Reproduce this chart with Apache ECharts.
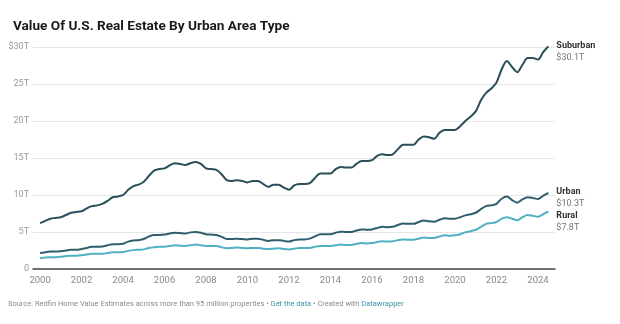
<!DOCTYPE html>
<html><head><meta charset="utf-8">
<script src="https://cdn.jsdelivr.net/npm/echarts@6/dist/echarts.min.js"></script>
<style>html,body{margin:0;padding:0;background:#fff}#c{width:620px;height:324px}</style>
</head><body><div id="c"></div>
<script>
const years = [2000,2001,2002,2003,2004,2005,2006,2007,2008,2009,2010,2011,2012,2013,2014,2015,2016,2017,2018,2019,2020,2021,2022,2023,2024];
const quarterOffsets = [0, 0.25, 0.5, 0.75];
const xTickLabels = [2000,2002,2004,2006,2008,2010,2012,2014,2016,2018,2020,2022,2024];
const yTickLabels = ['0','5T','10T','15T','20T','25T','$30T'];
const seriesNames = ['Suburban','Urban','Rural'];
const endValueLabels = ['$30.1T','$10.3T','$7.8T'];
const suburban = [
6.2,6.5,6.8,6.9, 7.0,7.3,7.6,7.7, 7.8,8.2,8.5,8.6, 8.8,9.2,9.7,9.8,
10.0,10.7,11.2,11.4, 11.8,12.6,13.3,13.5, 13.6,14.0,14.3,14.2, 14.05,14.3,14.45,14.2,
13.6,13.5,13.4,12.8, 12.0,11.9,12.0,11.9, 11.7,11.9,11.9,11.5, 11.1,11.4,11.4,11.0,
10.7,11.3,11.5,11.5, 11.6,12.3,12.9,12.9, 12.9,13.5,13.8,13.7, 13.7,14.2,14.6,14.6,
14.7,15.3,15.5,15.4, 15.5,16.2,16.8,16.8, 16.8,17.5,17.9,17.8, 17.6,18.4,18.8,18.8,
18.8,19.3,20.0,20.6, 21.3,22.8,23.8,24.4, 25.2,27.0,28.1,27.3, 26.6,27.6,28.5,28.5,
28.3,29.3,30.1];
const urban = [
2.15,2.25,2.35,2.35, 2.4,2.5,2.6,2.6, 2.7,2.85,3.0,3.0, 3.05,3.2,3.35,3.35,
3.4,3.7,3.85,3.9, 4.05,4.4,4.6,4.6, 4.65,4.8,4.9,4.85, 4.8,4.95,5.0,4.9,
4.7,4.65,4.6,4.35, 4.05,4.05,4.1,4.05, 4.0,4.1,4.1,3.95, 3.8,3.9,3.9,3.8,
3.7,3.9,4.0,4.0, 4.1,4.4,4.7,4.7, 4.7,4.9,5.05,5.0, 5.0,5.2,5.35,5.3,
5.35,5.55,5.7,5.65, 5.7,5.95,6.15,6.1, 6.1,6.35,6.55,6.45, 6.4,6.65,6.85,6.8,
6.8,7.0,7.25,7.4, 7.6,8.1,8.5,8.6, 8.8,9.5,9.8,9.3, 8.96,9.4,9.7,9.6,
9.46,9.9,10.3];
const rural = [
1.45,1.55,1.6,1.6, 1.65,1.75,1.8,1.8, 1.85,1.95,2.05,2.05, 2.05,2.15,2.25,2.25,
2.3,2.45,2.55,2.6, 2.65,2.85,2.95,3.0, 3.0,3.1,3.2,3.15, 3.1,3.2,3.3,3.2,
3.1,3.1,3.1,2.95, 2.8,2.85,2.9,2.85, 2.8,2.85,2.85,2.75, 2.7,2.75,2.8,2.7,
2.65,2.75,2.85,2.85, 2.85,3.0,3.1,3.1, 3.1,3.2,3.3,3.25, 3.25,3.4,3.5,3.45,
3.5,3.65,3.75,3.7, 3.75,3.9,4.0,3.95, 3.95,4.1,4.25,4.2, 4.2,4.4,4.55,4.5,
4.55,4.7,4.95,5.1, 5.3,5.7,6.1,6.2, 6.35,6.8,7.0,6.8, 6.6,7.0,7.3,7.2,
7.07,7.4,7.8];

const quarters = [];
years.forEach(y => quarterOffsets.forEach(q => quarters.push(y + q)));
function pairs(vals){ return vals.map((v,i)=>[quarters[i], v]); }

const colors = ['#2b4f5a','#2f5f6c','#4fb1c3'];
const labelOffsets = [[2,5],[2,5],[2,10]];
const datasets = [suburban, urban, rural];

const chart = echarts.init(document.getElementById('c'), null, {renderer:'canvas'});
chart.setOption({
  animation:false,
  backgroundColor:'#fff',
  textStyle:{fontFamily:'Roboto'},
  title:{
    text:'Value Of U.S. Real Estate By Urban Area Type',
    left:8, top:15,
    textStyle:{fontFamily:'Roboto', fontWeight:'bold', fontSize:13.6, color:'#1a1a1a'}
  },
  graphic:[{
    type:'text', left:8, top:300,
    style:{
      text:'{g|Source: Redfin Home Value Estimates across more than 95 million properties • }{l|Get the data}{g| • Created with }{l|Datawrapper}',
      rich:{
        g:{fill:'#8a8a8a', fontSize:7.5, fontFamily:'Roboto'},
        l:{fill:'#3a93a8', fontSize:7.5, fontFamily:'Roboto'}
      }
    }
  }],
  grid:{left:33, right:65, top:47, bottom:55},
  xAxis:{
    type:'value', min:1999.66, max:2024.82,
    axisLine:{show:true, lineStyle:{color:'#444', width:1.5}},
    axisTick:{show:false},
    splitLine:{show:false},
    axisLabel:{
      customValues: xTickLabels,
      color:'#888', fontSize:9.5, margin:7,
      formatter: v => String(Math.round(v))
    }
  },
  yAxis:{
    type:'value', min:0, max:30, interval:5,
    axisLine:{show:false}, axisTick:{show:false},
    splitLine:{lineStyle:{color:'#e6e6e6', width:1}},
    axisLabel:{
      color:'#999', fontSize:9, margin:4,
      formatter: v => yTickLabels[Math.round(v/5)]
    }
  },
  series: seriesNames.map((n,i)=>({
    name:n, type:'line', data:pairs(datasets[i]),
    showSymbol:false, smooth:0.3,
    lineStyle:{color:colors[i], width:2},
    itemStyle:{color:colors[i]},
    z: 3-i,
    endLabel:{
      show:true, distance:6, offset:labelOffsets[i],
      formatter: () => '{n|'+n+'}\n{v|'+endValueLabels[i]+'}',
      rich:{
        n:{fontFamily:'Roboto', fontWeight:'bold', fontSize:9, color:'#333', lineHeight:12},
        v:{fontFamily:'Roboto', fontSize:9, color:'#777', lineHeight:12}
      }
    }
  }))
});
</script></body></html>
